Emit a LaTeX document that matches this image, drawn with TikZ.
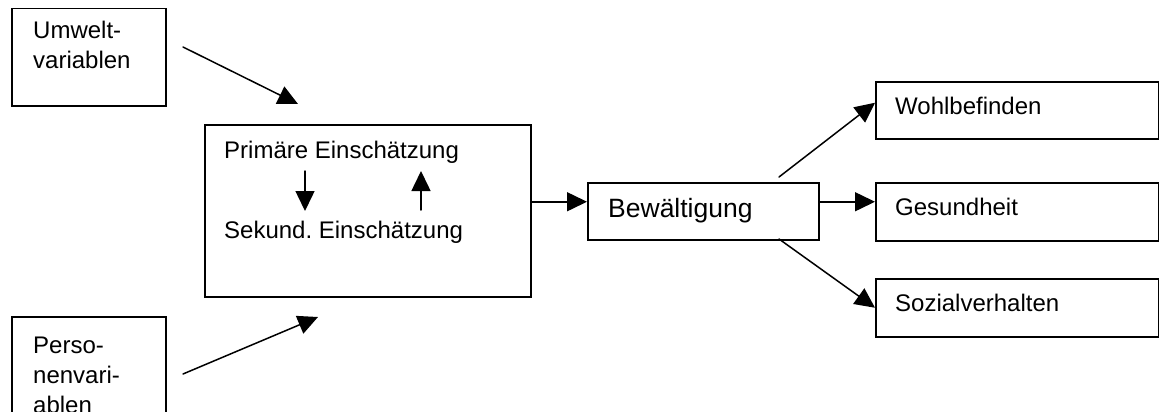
\documentclass[tikz,border=0pt]{standalone}
\usepackage{fontspec}
\setmainfont{Liberation Sans}
\usetikzlibrary{arrows.meta}

\begin{document}
\begin{tikzpicture}[x=1pt, y=-1pt, line cap=round,
  box/.style={draw, line width=1.5pt, line cap=butt, inner sep=0pt, anchor=north west},
  lbl/.style={inner sep=0pt, anchor=base west, align=left, font=\fontsize{24}{30}\selectfont},
  pfeil/.style={line width=1.5pt, -{Triangle[length=20pt, width=19pt]}}]
  \clip (0,0) rectangle (1159,412);

  % ---------------- variables (left) ----------------
  % (multi-line labels sit on the baseline of their last line)
  \node[box, minimum width=154pt, minimum height=97pt]  (umwelt) at (11,8)   {};
  \node[box, minimum width=154pt, minimum height=120pt] (person) at (11,316) {};
  \node[lbl] (tumwelt) at (33,69)  {Umwelt-\\variablen};
  \node[lbl] (tperson) at (33,413) {Perso-\\nenvari-\\ablen};

  % ---------------- appraisal ----------------
  \node[box, minimum width=326pt, minimum height=172pt] (haupt) at (204,124) {};
  \node[lbl] (prim) at (224,158) {Primäre Einschätzung};
  \node[lbl] (sek)  at (224,238) {Sekund.\ Einschätzung};
  \coordinate (ab0)  at (305,171);
  \coordinate (ab1)  at (305,211);
  \coordinate (auf0) at (421,210);
  \coordinate (auf1) at (421,171);
  \draw[pfeil] (ab0) -- (ab1);
  \draw[pfeil] (auf0) -- (auf1);

  \coordinate (u0) at (183,47);
  \coordinate (u1) at (298,104);
  \coordinate (p0) at (183,374);
  \coordinate (p1) at (318,317);
  \draw[pfeil] (u0) -- (u1);
  \draw[pfeil] (p0) -- (p1);

  % ---------------- coping ----------------
  \node[box, minimum width=231pt, minimum height=57pt] (bew) at (587,182) {};
  \node[lbl, font=\fontsize{26.5}{30}\selectfont] (tbew) at (608,217) {Bewältigung};
  \coordinate (bin)  at ([yshift=9.5pt]bew.west);
  \coordinate (bout) at ([yshift=9.5pt]bew.east);
  \draw[pfeil] (haupt.east |- bin) -- (bin);

  % ---------------- outcomes (right) ----------------
  \foreach \name/\y/\h/\txt/\bl in {wohl/81/57/Wohlbefinden/114,
                                    ges/182/58/Gesundheit/215,
                                    soz/278/58/Sozialverhalten/311}{
    \node[box, minimum width=283pt, minimum height=\h pt] (\name) at (875,\y) {};
    \node[lbl] (t\name) at (895,\bl) {\txt};
  }
  \coordinate (w0) at (779,177);
  \coordinate (s0) at (779,239);
  \draw[pfeil] (w0) -- ([yshift=7.5pt]wohl.west);
  \draw[pfeil] (bout) -- (ges.west |- bout);
  \draw[pfeil] (s0) -- (soz.west);
\end{tikzpicture}
\end{document}
